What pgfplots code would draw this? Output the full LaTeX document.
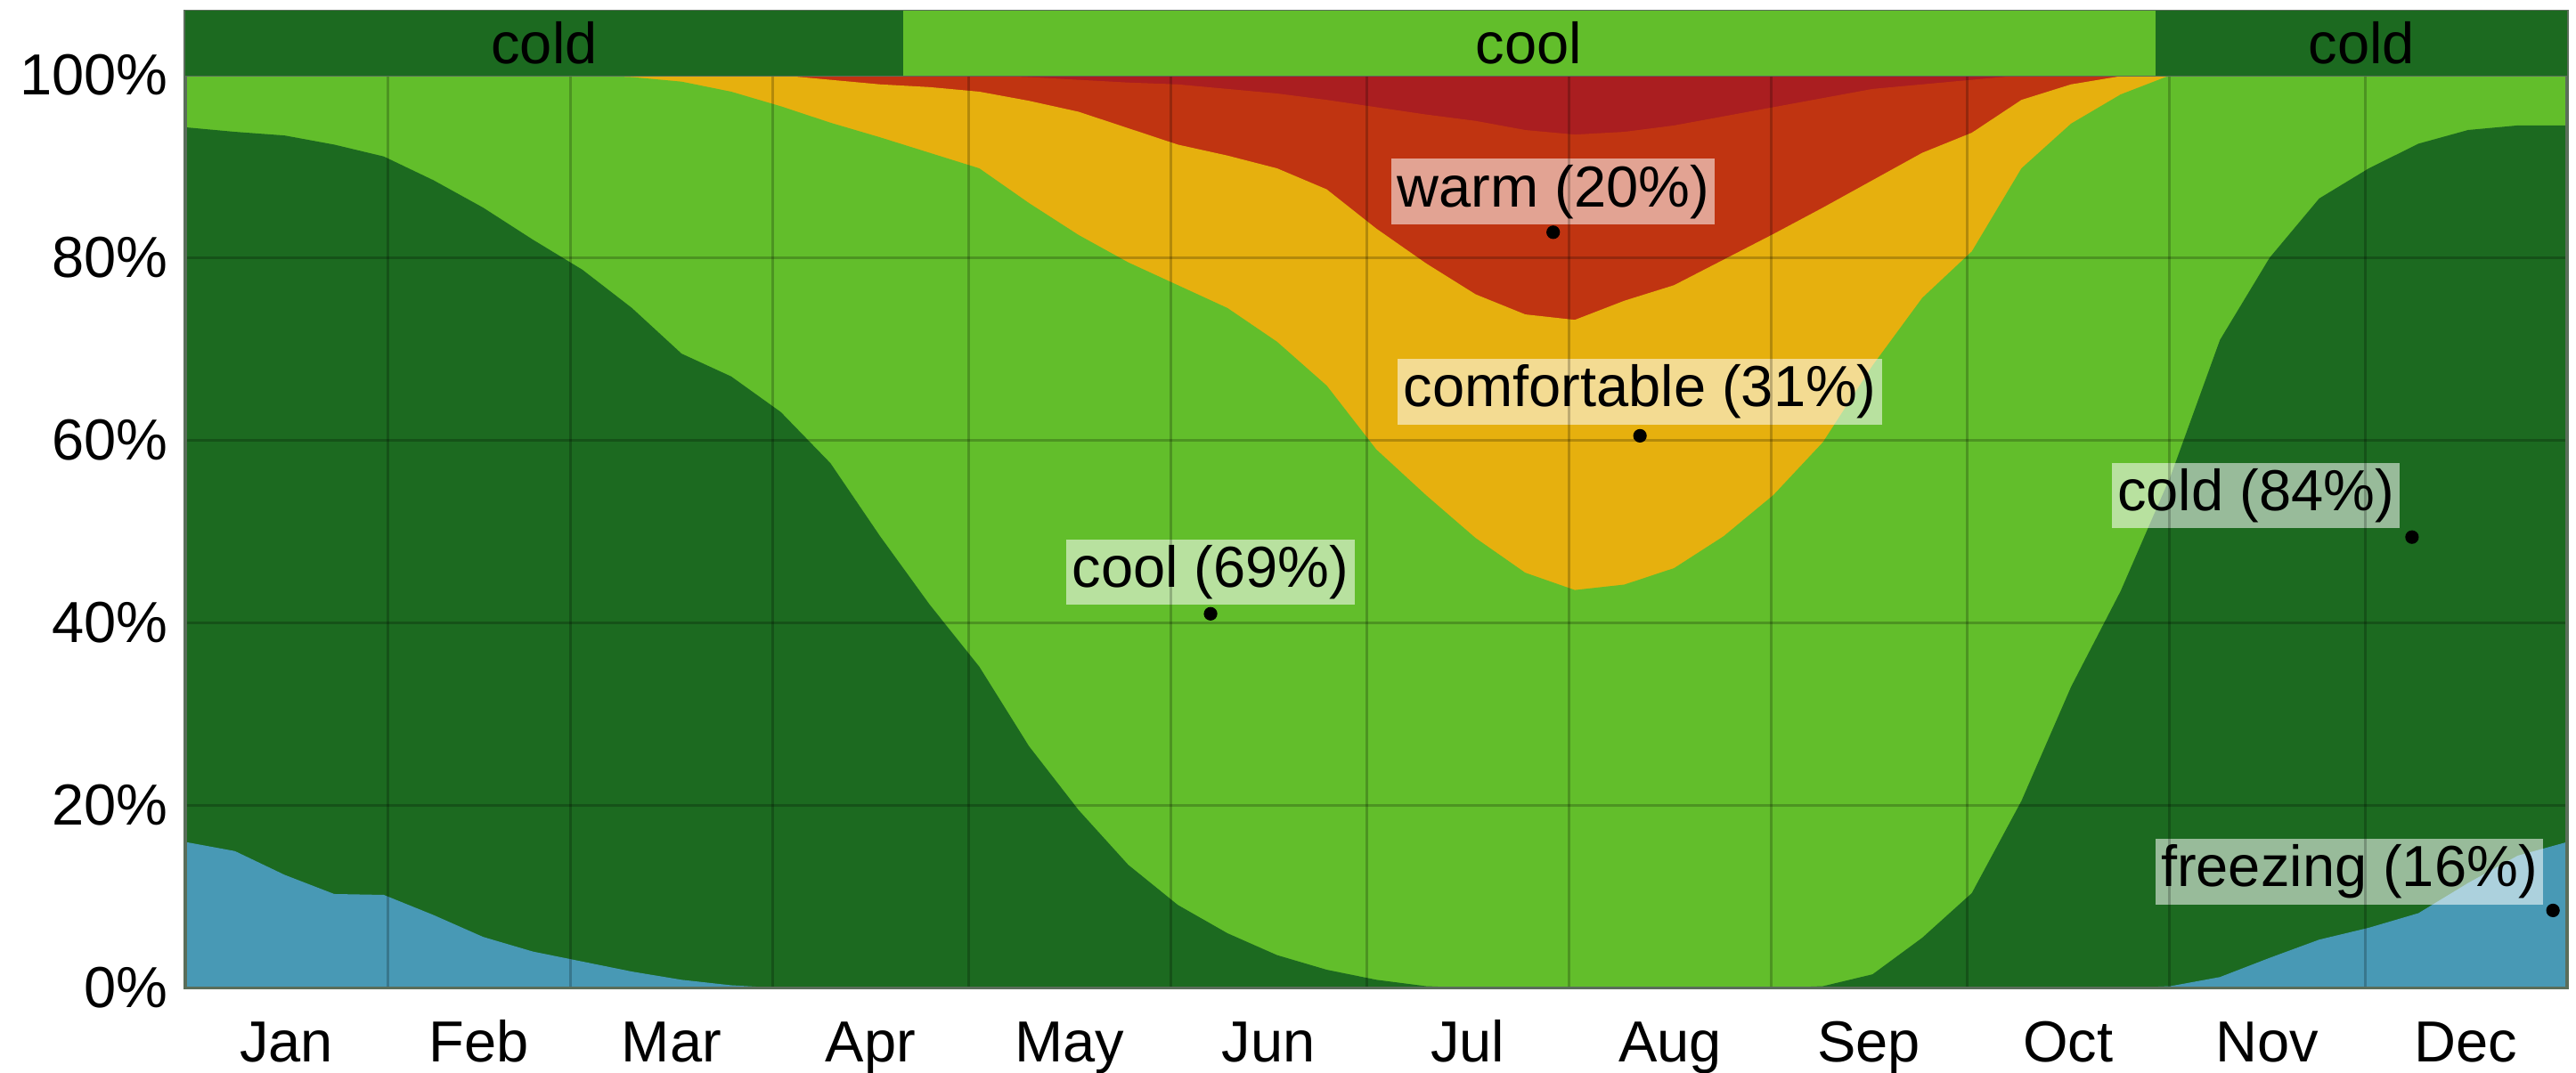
\documentclass[border=0pt]{standalone}
\usepackage{fontspec}
\setmainfont{Liberation Sans}
\usepackage{pgfplots}
\pgfplotsset{compat=1.18}
\usepackage{pgfplotstable}

\definecolor{cfreeze}{RGB}{72,153,181}
\definecolor{ccold}{RGB}{28,106,32}
\definecolor{ccool}{RGB}{98,190,43}
\definecolor{ccomf}{RGB}{230,176,14}
\definecolor{cwarm}{RGB}{192,52,17}
\definecolor{chot}{RGB}{170,30,32}
\definecolor{cframe}{RGB}{90,110,90}

\tikzset{lbl/.style={fill=white, fill opacity=0.55, text opacity=1, inner sep=1.2pt,
    font=\fontsize{12}{14}\selectfont}}

% cumulative band boundaries (percent), x in months (0..12)
\pgfplotstableread{
m     b1    b2    b3    b4    b5
0     16    94.3  100   100   100
0.25  15    93.8  100   100   100
0.5   12.4  93.4  100   100   100
0.75  10.3  92.4  100   100   100
1.0   10.2  91.1  100   100   100
1.25  8     88.5  100   100   100
1.5   5.6   85.5  100   100   100
1.75  4     82    100   100   100
2.0   2.9   78.7  100   100   100
2.25  1.8   74.5  99.8  100   100
2.5   0.9   69.5  99.3  100   100
2.75  0.3   67    98.2  100   100
3.0   0     63.1  96.6  100   100
3.25  0     57.5  94.8  99.5  100
3.5   0     49.5  93.2  99    100
3.75  0     42    91.5  98.7  100
4.0   0     35.2  89.8  98.2  100
4.25  0     26.5  86    97.2  99.8
4.5   0     19.5  82.5  96    99.5
4.75  0     13.5  79.5  94.2  99.2
5.0   0     9.1   77    92.4  99
5.25  0     6     74.5  91.2  98.5
5.5   0     3.6   70.8  89.8  98
5.75  0     2.0   66    87.5  97.3
6.0   0     0.9   59    83.2  96.5
6.25  0     0.2   54    79.4  95.7
6.5   0     0     49.3  76    95
6.75  0     0     45.5  73.8  94
7.0   0     0     43.6  73.2  93.5
7.25  0     0     44.2  75.3  93.8
7.5   0     0     46    77    94.5
7.75  0     0     49.5  79.8  95.5
8.0   0     0     54    82.6  96.5
8.25  0     0.2   59.8  85.5  97.5
8.5   0     1.5   68.2  88.5  98.5
8.75  0     5.5   75.6  91.5  99
9.0   0     10.4  80.7  93.7  99.5
9.25  0     20.5  89.8  97.3  100
9.5   0     33    94.7  99    100
9.75  0     43.5  97.9  99.9  100
10.0  0.2   56    100   100   100
10.25 1.2   71    100   100   100
10.5  3.3   80    100   100   100
10.75 5.3   86.5  100   100   100
11.0  6.6   89.8  100   100   100
11.25 8.2   92.5  100   100   100
11.5  11.5  94    100   100   100
11.75 14.5  94.5  100   100   100
12.0  16    94.5  100   100   100
}\temps

\begin{document}
\begin{tikzpicture}
\useasboundingbox (-38.4pt,-17.5pt) rectangle (495.4pt,204.8pt);
\begin{axis}[
  at={(0pt,0pt)}, anchor=south west,
  scale only axis, width=493.6pt, height=189.2pt,
  xmin=0, xmax=365, ymin=0, ymax=100,
  axis on top,
  axis background/.style={fill=chot},
  axis line style={cframe, line width=0.7pt},
  xtick={15.5,45,74.5,105,135.5,166,196.5,227.5,258,288.5,319,349.5},
  xticklabels={Jan,Feb,Mar,Apr,May,Jun,Jul,Aug,Sep,Oct,Nov,Dec},
  minor xtick={31,59,90,120,151,181,212,243,273,304,334},
  ytick={0,20,40,60,80,100},
  yticklabels={0\%,20\%,40\%,60\%,80\%,100\%},
  major tick length=0pt, minor tick length=0pt,
  xminorgrids=true, ymajorgrids=true, xmajorgrids=false,
  major grid style={black, opacity=0.22, line width=0.5pt},
  minor grid style={black, opacity=0.22, line width=0.5pt},
  tick label style={font=\fontsize{12}{14}\selectfont, inner sep=0pt},
  yticklabel style={anchor=east, xshift=-3.4pt},
  xticklabel style={anchor=base, yshift=-15.3pt},
]
\addplot[draw=none, fill=cwarm] table[x expr=\thisrow{m}*30.4167, y=b5]{\temps} \closedcycle;
\addplot[draw=none, fill=ccomf] table[x expr=\thisrow{m}*30.4167, y=b4]{\temps} \closedcycle;
\addplot[draw=none, fill=ccool] table[x expr=\thisrow{m}*30.4167, y=b3]{\temps} \closedcycle;
\addplot[draw=none, fill=ccold] table[x expr=\thisrow{m}*30.4167, y=b2]{\temps} \closedcycle;
\addplot[draw=none, fill=cfreeze] table[x expr=\thisrow{m}*30.4167, y=b1]{\temps} \closedcycle;

\addplot[only marks, mark=*, mark size=1.2pt, black] coordinates {
  (209.6,82.8) (222.9,60.5) (157.1,41.0) (341.2,49.4) (362.8,8.5)};

\node[lbl, anchor=base, yshift=5.3pt] at (axis cs:209.6,82.8) {warm (20\%)};
\node[lbl, anchor=base, yshift=6pt] at (axis cs:222.9,60.5) {comfortable (31\%)};
\node[lbl, anchor=base, yshift=5.5pt] at (axis cs:157.1,41.0) {cool (69\%)};
\node[lbl, anchor=base east, xshift=-2.3pt, yshift=5.5pt] at (axis cs:341.2,49.4) {cold (84\%)};
\node[lbl, anchor=base east, xshift=-1.8pt, yshift=4.9pt] at (axis cs:362.8,8.5) {freezing (16\%)};
\end{axis}

\begin{axis}[
  at={(0pt,189.2pt)}, anchor=south west,
  scale only axis, width=493.6pt, height=13.3pt,
  xmin=0, xmax=365, ymin=0, ymax=1,
  axis line style={cframe, line width=0.7pt},
  ticks=none,
]
\addplot[draw=none, fill=ccold] coordinates {(0,1) (110,1)} \closedcycle;
\addplot[draw=none, fill=ccool] coordinates {(110,1) (301.9,1)} \closedcycle;
\addplot[draw=none, fill=ccold] coordinates {(301.9,1) (365,1)} \closedcycle;
\node[font=\fontsize{12}{14}\selectfont] at (axis cs:55,0.5) {cold};
\node[font=\fontsize{12}{14}\selectfont] at (axis cs:205.9,0.5) {cool};
\node[font=\fontsize{12}{14}\selectfont] at (axis cs:333.5,0.5) {cold};
\end{axis}
\end{tikzpicture}
\end{document}
